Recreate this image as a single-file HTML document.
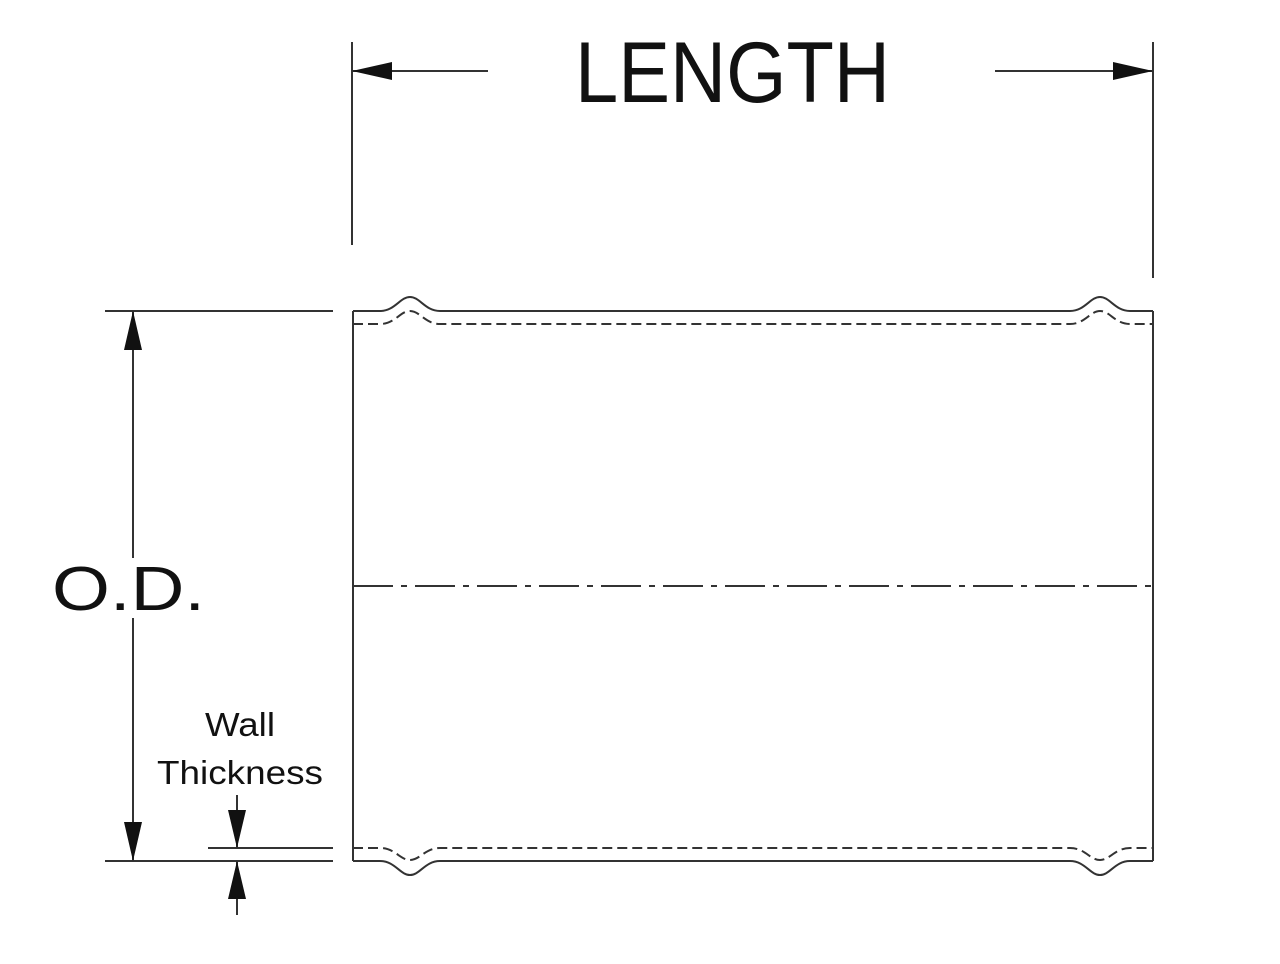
<!DOCTYPE html>
<html><head><style>body{margin:0;background:#fff}</style></head><body>
<svg width="1280" height="959" viewBox="0 0 1280 959" xmlns="http://www.w3.org/2000/svg">
<g stroke="#333" stroke-width="2" fill="none">
<line x1="352" y1="42" x2="352" y2="245"/>
<line x1="1153" y1="42" x2="1153" y2="278"/>
<line x1="352" y1="71" x2="488" y2="71"/>
<line x1="995" y1="71" x2="1153" y2="71"/>
<line x1="105" y1="311" x2="333" y2="311"/>
<line x1="105" y1="861" x2="333" y2="861"/>
<line x1="208" y1="848" x2="333" y2="848"/>
<line x1="133" y1="311" x2="133" y2="558"/>
<line x1="133" y1="618" x2="133" y2="861"/>
<line x1="237" y1="795" x2="237" y2="848"/>
<line x1="237" y1="861" x2="237" y2="915"/>
<line x1="353" y1="311" x2="353" y2="861"/>
<line x1="1153" y1="311" x2="1153" y2="861"/>
<path d="M353 311 H380 C395 311 400 297 410 297 C420 297 425 311 440 311 H1070 C1085 311 1090 297 1100 297 C1110 297 1115 311 1130 311 H1153"/>
<path d="M353 861 H380 C395 861 400 875 410 875 C420 875 425 861 440 861 H1070 C1085 861 1090 875 1100 875 C1110 875 1115 861 1130 861 H1153"/>
<path stroke-dasharray="10 5" d="M353 324 H380 C395 324 400 311 410 311 C420 311 425 324 440 324 H1070 C1085 324 1090 311 1100 311 C1110 311 1115 324 1130 324 H1153"/>
<path stroke-dasharray="10 5" d="M353 848 H380 C395 848 400 860 410 860 C420 860 425 848 440 848 H1070 C1085 848 1090 860 1100 860 C1110 860 1115 848 1130 848 H1153"/>
<line x1="353" y1="586" x2="1153" y2="586" stroke-dasharray="40 8 6 8"/>
</g>
<g fill="#111">
<polygon points="352,71 392,62 392,80"/>
<polygon points="1153,71 1113,62 1113,80"/>
<polygon points="133,311 124,350 142,350"/>
<polygon points="133,861 124,822 142,822"/>
<polygon points="237,848 228,810 246,810"/>
<polygon points="237,861 228,899 246,899"/>
</g>
<g font-family="Liberation Sans, sans-serif" fill="#111">
<text x="575" y="102" font-size="86" textLength="315" lengthAdjust="spacingAndGlyphs">LENGTH</text>
<text x="52" y="610" font-size="62" textLength="153" lengthAdjust="spacingAndGlyphs">O.D.</text>
<text x="205" y="736" font-size="33" textLength="70" lengthAdjust="spacingAndGlyphs">Wall</text>
<text x="157" y="784" font-size="33" textLength="166" lengthAdjust="spacingAndGlyphs">Thickness</text>
</g>
</svg>
</body></html>
